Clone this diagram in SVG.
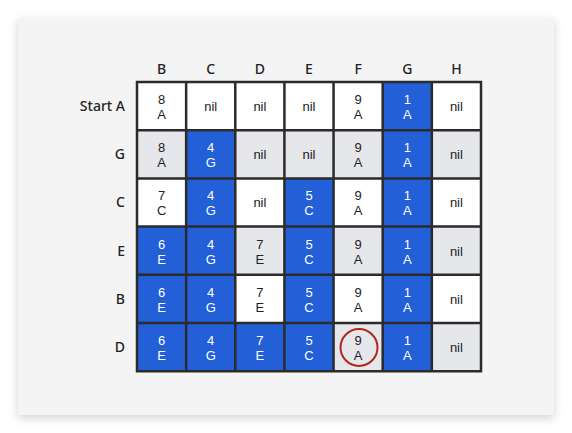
<svg xmlns="http://www.w3.org/2000/svg" width="572" height="433" viewBox="0 0 572 433">
<defs>
<filter id="sh" x="-10%" y="-10%" width="120%" height="125%">
<feDropShadow dx="0" dy="3" stdDeviation="5" flood-color="#000" flood-opacity="0.18"/>
</filter>
<style>
.w{fill:#ffffff}
.g{fill:#e6e7ea}
.b{fill:#2360d8}
.t{font-family:"Liberation Sans",Arial,sans-serif;font-size:13px;fill:#222;text-anchor:middle}
.tb{fill:#ffffff}
.h{font-family:"Noto Sans","Liberation Sans",sans-serif;font-size:14px;font-weight:500;fill:#222;text-anchor:middle}
.r{text-anchor:end}
.grid{fill:none;stroke:#2b2b2b;stroke-width:2.5}
</style>
</defs>
<rect x="0" y="0" width="572" height="433" fill="#ffffff"/>
<rect x="18" y="18" width="536" height="397" fill="#f4f4f4" filter="url(#sh)"/>
<g id="col-headers">
<text class="h" x="161.6" y="74">B</text>
<text class="h" x="210.7" y="74">C</text>
<text class="h" x="259.9" y="74">D</text>
<text class="h" x="309" y="74">E</text>
<text class="h" x="358.1" y="74">F</text>
<text class="h" x="407.3" y="74">G</text>
<text class="h" x="456.4" y="74">H</text>
</g>
<g id="row-headers">
<text class="h r" x="125" y="111">Start A</text>
<text class="h r" x="125" y="159.2">G</text>
<text class="h r" x="125" y="207.4">C</text>
<text class="h r" x="125" y="255.6">E</text>
<text class="h r" x="125" y="303.8">B</text>
<text class="h r" x="125" y="352">D</text>
</g>
<g id="cells">
<!-- Row Start A y=82 -->
<g id="r0-B"><rect class="w" x="137" y="82" width="49.14" height="48.2"/><text class="t" x="161.6" y="104">8</text><text class="t" x="161.6" y="119">A</text></g>
<g id="r0-C"><rect class="w" x="186.14" y="82" width="49.14" height="48.2"/><text class="t" x="210.7" y="111">nil</text></g>
<g id="r0-D"><rect class="w" x="235.28" y="82" width="49.14" height="48.2"/><text class="t" x="259.9" y="111">nil</text></g>
<g id="r0-E"><rect class="w" x="284.42" y="82" width="49.14" height="48.2"/><text class="t" x="309" y="111">nil</text></g>
<g id="r0-F"><rect class="w" x="333.56" y="82" width="49.14" height="48.2"/><text class="t" x="358.1" y="104">9</text><text class="t" x="358.1" y="119">A</text></g>
<g id="r0-G"><rect class="b" x="382.7" y="82" width="49.14" height="48.2"/><text class="t tb" x="407.3" y="104">1</text><text class="t tb" x="407.3" y="119">A</text></g>
<g id="r0-H"><rect class="w" x="431.84" y="82" width="49.16" height="48.2"/><text class="t" x="456.4" y="111">nil</text></g>
<!-- Row G y=130.2 -->
<g id="r1-B"><rect class="g" x="137" y="130.2" width="49.14" height="48.2"/><text class="t" x="161.6" y="152.2">8</text><text class="t" x="161.6" y="167.2">A</text></g>
<g id="r1-C"><rect class="b" x="186.14" y="130.2" width="49.14" height="48.2"/><text class="t tb" x="210.7" y="152.2">4</text><text class="t tb" x="210.7" y="167.2">G</text></g>
<g id="r1-D"><rect class="g" x="235.28" y="130.2" width="49.14" height="48.2"/><text class="t" x="259.9" y="159.2">nil</text></g>
<g id="r1-E"><rect class="g" x="284.42" y="130.2" width="49.14" height="48.2"/><text class="t" x="309" y="159.2">nil</text></g>
<g id="r1-F"><rect class="g" x="333.56" y="130.2" width="49.14" height="48.2"/><text class="t" x="358.1" y="152.2">9</text><text class="t" x="358.1" y="167.2">A</text></g>
<g id="r1-G"><rect class="b" x="382.7" y="130.2" width="49.14" height="48.2"/><text class="t tb" x="407.3" y="152.2">1</text><text class="t tb" x="407.3" y="167.2">A</text></g>
<g id="r1-H"><rect class="g" x="431.84" y="130.2" width="49.16" height="48.2"/><text class="t" x="456.4" y="159.2">nil</text></g>
<!-- Row C y=178.4 -->
<g id="r2-B"><rect class="w" x="137" y="178.4" width="49.14" height="48.2"/><text class="t" x="161.6" y="200.4">7</text><text class="t" x="161.6" y="215.4">C</text></g>
<g id="r2-C"><rect class="b" x="186.14" y="178.4" width="49.14" height="48.2"/><text class="t tb" x="210.7" y="200.4">4</text><text class="t tb" x="210.7" y="215.4">G</text></g>
<g id="r2-D"><rect class="w" x="235.28" y="178.4" width="49.14" height="48.2"/><text class="t" x="259.9" y="207.4">nil</text></g>
<g id="r2-E"><rect class="b" x="284.42" y="178.4" width="49.14" height="48.2"/><text class="t tb" x="309" y="200.4">5</text><text class="t tb" x="309" y="215.4">C</text></g>
<g id="r2-F"><rect class="w" x="333.56" y="178.4" width="49.14" height="48.2"/><text class="t" x="358.1" y="200.4">9</text><text class="t" x="358.1" y="215.4">A</text></g>
<g id="r2-G"><rect class="b" x="382.7" y="178.4" width="49.14" height="48.2"/><text class="t tb" x="407.3" y="200.4">1</text><text class="t tb" x="407.3" y="215.4">A</text></g>
<g id="r2-H"><rect class="w" x="431.84" y="178.4" width="49.16" height="48.2"/><text class="t" x="456.4" y="207.4">nil</text></g>
<!-- Row E y=226.6 -->
<g id="r3-B"><rect class="b" x="137" y="226.6" width="49.14" height="48.2"/><text class="t tb" x="161.6" y="248.6">6</text><text class="t tb" x="161.6" y="263.6">E</text></g>
<g id="r3-C"><rect class="b" x="186.14" y="226.6" width="49.14" height="48.2"/><text class="t tb" x="210.7" y="248.6">4</text><text class="t tb" x="210.7" y="263.6">G</text></g>
<g id="r3-D"><rect class="g" x="235.28" y="226.6" width="49.14" height="48.2"/><text class="t" x="259.9" y="248.6">7</text><text class="t" x="259.9" y="263.6">E</text></g>
<g id="r3-E"><rect class="b" x="284.42" y="226.6" width="49.14" height="48.2"/><text class="t tb" x="309" y="248.6">5</text><text class="t tb" x="309" y="263.6">C</text></g>
<g id="r3-F"><rect class="g" x="333.56" y="226.6" width="49.14" height="48.2"/><text class="t" x="358.1" y="248.6">9</text><text class="t" x="358.1" y="263.6">A</text></g>
<g id="r3-G"><rect class="b" x="382.7" y="226.6" width="49.14" height="48.2"/><text class="t tb" x="407.3" y="248.6">1</text><text class="t tb" x="407.3" y="263.6">A</text></g>
<g id="r3-H"><rect class="g" x="431.84" y="226.6" width="49.16" height="48.2"/><text class="t" x="456.4" y="255.6">nil</text></g>
<!-- Row B y=274.8 -->
<g id="r4-B"><rect class="b" x="137" y="274.8" width="49.14" height="48.2"/><text class="t tb" x="161.6" y="296.8">6</text><text class="t tb" x="161.6" y="311.8">E</text></g>
<g id="r4-C"><rect class="b" x="186.14" y="274.8" width="49.14" height="48.2"/><text class="t tb" x="210.7" y="296.8">4</text><text class="t tb" x="210.7" y="311.8">G</text></g>
<g id="r4-D"><rect class="w" x="235.28" y="274.8" width="49.14" height="48.2"/><text class="t" x="259.9" y="296.8">7</text><text class="t" x="259.9" y="311.8">E</text></g>
<g id="r4-E"><rect class="b" x="284.42" y="274.8" width="49.14" height="48.2"/><text class="t tb" x="309" y="296.8">5</text><text class="t tb" x="309" y="311.8">C</text></g>
<g id="r4-F"><rect class="w" x="333.56" y="274.8" width="49.14" height="48.2"/><text class="t" x="358.1" y="296.8">9</text><text class="t" x="358.1" y="311.8">A</text></g>
<g id="r4-G"><rect class="b" x="382.7" y="274.8" width="49.14" height="48.2"/><text class="t tb" x="407.3" y="296.8">1</text><text class="t tb" x="407.3" y="311.8">A</text></g>
<g id="r4-H"><rect class="w" x="431.84" y="274.8" width="49.16" height="48.2"/><text class="t" x="456.4" y="303.8">nil</text></g>
<!-- Row D y=323 -->
<g id="r5-B"><rect class="b" x="137" y="323" width="49.14" height="48.2"/><text class="t tb" x="161.6" y="345">6</text><text class="t tb" x="161.6" y="360">E</text></g>
<g id="r5-C"><rect class="b" x="186.14" y="323" width="49.14" height="48.2"/><text class="t tb" x="210.7" y="345">4</text><text class="t tb" x="210.7" y="360">G</text></g>
<g id="r5-D"><rect class="b" x="235.28" y="323" width="49.14" height="48.2"/><text class="t tb" x="259.9" y="345">7</text><text class="t tb" x="259.9" y="360">E</text></g>
<g id="r5-E"><rect class="b" x="284.42" y="323" width="49.14" height="48.2"/><text class="t tb" x="309" y="345">5</text><text class="t tb" x="309" y="360">C</text></g>
<g id="r5-F"><rect class="g" x="333.56" y="323" width="49.14" height="48.2"/><text class="t" x="358.1" y="345">9</text><text class="t" x="358.1" y="360">A</text><circle cx="359" cy="347.5" r="18.5" fill="none" stroke="#b0271a" stroke-width="2"/></g>
<g id="r5-G"><rect class="b" x="382.7" y="323" width="49.14" height="48.2"/><text class="t tb" x="407.3" y="345">1</text><text class="t tb" x="407.3" y="360">A</text></g>
<g id="r5-H"><rect class="g" x="431.84" y="323" width="49.16" height="48.2"/><text class="t" x="456.4" y="352">nil</text></g>
</g>
<g id="connectors">
<path class="grid" d="M137 82H481V371.2H137Z M186.14 82V371.2 M235.28 82V371.2 M284.42 82V371.2 M333.56 82V371.2 M382.7 82V371.2 M431.84 82V371.2 M137 130.2H481 M137 178.4H481 M137 226.6H481 M137 274.8H481 M137 323H481"/>
</g>
</svg>
